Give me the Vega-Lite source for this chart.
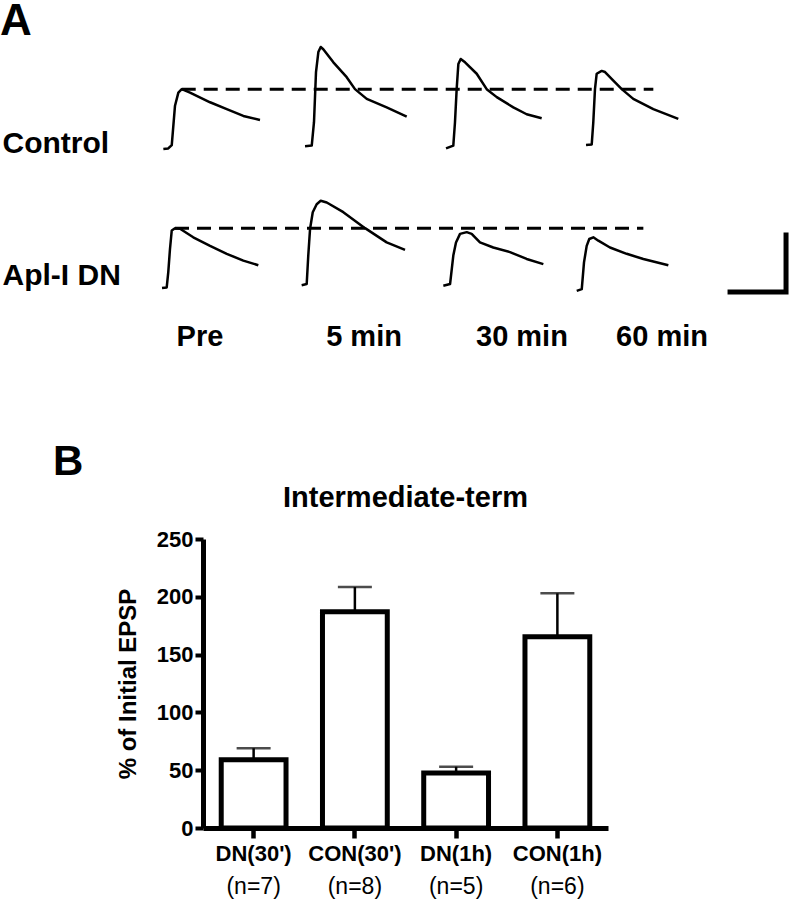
{
  "$schema": "https://vega.github.io/schema/vega-lite/v6.json",
  "padding": 0,
  "background": "white",
  "spacing": 88,
  "config": {"view": {"stroke": null}, "font": "Liberation Sans"},
  "resolve": {"scale": {"xOffset": "independent", "yOffset": "independent"}},
  "datasets": {
    "traces": [
      {"condition": "Control", "timepoint": "Pre", "t": 11.2, "v": 0},
      {"condition": "Control", "timepoint": "Pre", "t": 15.6, "v": 0.1},
      {"condition": "Control", "timepoint": "Pre", "t": 18.7, "v": 0.7},
      {"condition": "Control", "timepoint": "Pre", "t": 21.6, "v": 7.6},
      {"condition": "Control", "timepoint": "Pre", "t": 24.6, "v": 9.9},
      {"condition": "Control", "timepoint": "Pre", "t": 27.6, "v": 10.5},
      {"condition": "Control", "timepoint": "Pre", "t": 35, "v": 9.9},
      {"condition": "Control", "timepoint": "Pre", "t": 52.9, "v": 8.2},
      {"condition": "Control", "timepoint": "Pre", "t": 67.8, "v": 7.0},
      {"condition": "Control", "timepoint": "Pre", "t": 82.6, "v": 5.8},
      {"condition": "Control", "timepoint": "Pre", "t": 97.5, "v": 5.1},
      {"condition": "Control", "timepoint": "5 min", "t": 11.8, "v": 0.5},
      {"condition": "Control", "timepoint": "5 min", "t": 17.8, "v": 0.6},
      {"condition": "Control", "timepoint": "5 min", "t": 19.8, "v": 4.7},
      {"condition": "Control", "timepoint": "5 min", "t": 21.6, "v": 13.5},
      {"condition": "Control", "timepoint": "5 min", "t": 23.7, "v": 17.0},
      {"condition": "Control", "timepoint": "5 min", "t": 25.8, "v": 17.9},
      {"condition": "Control", "timepoint": "5 min", "t": 28.1, "v": 17.5},
      {"condition": "Control", "timepoint": "5 min", "t": 37.1, "v": 15.2},
      {"condition": "Control", "timepoint": "5 min", "t": 49.0, "v": 12.6},
      {"condition": "Control", "timepoint": "5 min", "t": 56.4, "v": 10.5},
      {"condition": "Control", "timepoint": "5 min", "t": 66.9, "v": 8.8},
      {"condition": "Control", "timepoint": "5 min", "t": 84.7, "v": 7.3},
      {"condition": "Control", "timepoint": "5 min", "t": 102.6, "v": 5.7},
      {"condition": "Control", "timepoint": "30 min", "t": 11.8, "v": 0.1},
      {"condition": "Control", "timepoint": "30 min", "t": 18.3, "v": 0.6},
      {"condition": "Control", "timepoint": "30 min", "t": 19.8, "v": 4.7},
      {"condition": "Control", "timepoint": "30 min", "t": 21.3, "v": 10.5},
      {"condition": "Control", "timepoint": "30 min", "t": 22.8, "v": 14.9},
      {"condition": "Control", "timepoint": "30 min", "t": 24.9, "v": 15.8},
      {"condition": "Control", "timepoint": "30 min", "t": 28.8, "v": 15.2},
      {"condition": "Control", "timepoint": "30 min", "t": 39.2, "v": 13.2},
      {"condition": "Control", "timepoint": "30 min", "t": 48.1, "v": 10.5},
      {"condition": "Control", "timepoint": "30 min", "t": 57.1, "v": 9.1},
      {"condition": "Control", "timepoint": "30 min", "t": 71.9, "v": 7.3},
      {"condition": "Control", "timepoint": "30 min", "t": 83.8, "v": 6.1},
      {"condition": "Control", "timepoint": "30 min", "t": 97.2, "v": 5.4},
      {"condition": "Control", "timepoint": "60 min", "t": 10.9, "v": 0.7},
      {"condition": "Control", "timepoint": "60 min", "t": 16.0, "v": 0.8},
      {"condition": "Control", "timepoint": "60 min", "t": 17.4, "v": 4.7},
      {"condition": "Control", "timepoint": "60 min", "t": 18.9, "v": 10.5},
      {"condition": "Control", "timepoint": "60 min", "t": 20.4, "v": 13.2},
      {"condition": "Control", "timepoint": "60 min", "t": 24.9, "v": 13.7},
      {"condition": "Control", "timepoint": "60 min", "t": 27.9, "v": 13.5},
      {"condition": "Control", "timepoint": "60 min", "t": 35.3, "v": 12.0},
      {"condition": "Control", "timepoint": "60 min", "t": 42.8, "v": 10.5},
      {"condition": "Control", "timepoint": "60 min", "t": 53.1, "v": 8.8},
      {"condition": "Control", "timepoint": "60 min", "t": 71.0, "v": 7.0},
      {"condition": "Control", "timepoint": "60 min", "t": 93.3, "v": 5.3},
      {"condition": "Apl-I DN", "timepoint": "Pre", "t": 10.0, "v": 0},
      {"condition": "Apl-I DN", "timepoint": "Pre", "t": 14.2, "v": 0.1},
      {"condition": "Apl-I DN", "timepoint": "Pre", "t": 15.6, "v": 2.8},
      {"condition": "Apl-I DN", "timepoint": "Pre", "t": 17.1, "v": 6.8},
      {"condition": "Apl-I DN", "timepoint": "Pre", "t": 18.7, "v": 10.1},
      {"condition": "Apl-I DN", "timepoint": "Pre", "t": 21.6, "v": 10.5},
      {"condition": "Apl-I DN", "timepoint": "Pre", "t": 26.1, "v": 10.4},
      {"condition": "Apl-I DN", "timepoint": "Pre", "t": 37.9, "v": 8.9},
      {"condition": "Apl-I DN", "timepoint": "Pre", "t": 52.9, "v": 7.4},
      {"condition": "Apl-I DN", "timepoint": "Pre", "t": 67.8, "v": 6.0},
      {"condition": "Apl-I DN", "timepoint": "Pre", "t": 82.6, "v": 4.8},
      {"condition": "Apl-I DN", "timepoint": "Pre", "t": 96.0, "v": 4.0},
      {"condition": "Apl-I DN", "timepoint": "5 min", "t": 8.8, "v": 0.5},
      {"condition": "Apl-I DN", "timepoint": "5 min", "t": 13.3, "v": 0.7},
      {"condition": "Apl-I DN", "timepoint": "5 min", "t": 14.7, "v": 5.7},
      {"condition": "Apl-I DN", "timepoint": "5 min", "t": 16.3, "v": 10.4},
      {"condition": "Apl-I DN", "timepoint": "5 min", "t": 18.7, "v": 13.3},
      {"condition": "Apl-I DN", "timepoint": "5 min", "t": 22.2, "v": 14.7},
      {"condition": "Apl-I DN", "timepoint": "5 min", "t": 25.8, "v": 15.3},
      {"condition": "Apl-I DN", "timepoint": "5 min", "t": 31.2, "v": 15.0},
      {"condition": "Apl-I DN", "timepoint": "5 min", "t": 46.0, "v": 13.3},
      {"condition": "Apl-I DN", "timepoint": "5 min", "t": 65.4, "v": 10.5},
      {"condition": "Apl-I DN", "timepoint": "5 min", "t": 84.7, "v": 8.0},
      {"condition": "Apl-I DN", "timepoint": "5 min", "t": 101.1, "v": 6.7},
      {"condition": "Apl-I DN", "timepoint": "30 min", "t": 9.4, "v": 0.4},
      {"condition": "Apl-I DN", "timepoint": "30 min", "t": 15.4, "v": 0.7},
      {"condition": "Apl-I DN", "timepoint": "30 min", "t": 18.3, "v": 5.7},
      {"condition": "Apl-I DN", "timepoint": "30 min", "t": 20.7, "v": 8.0},
      {"condition": "Apl-I DN", "timepoint": "30 min", "t": 24.3, "v": 9.5},
      {"condition": "Apl-I DN", "timepoint": "30 min", "t": 30.3, "v": 9.8},
      {"condition": "Apl-I DN", "timepoint": "30 min", "t": 34.7, "v": 9.5},
      {"condition": "Apl-I DN", "timepoint": "30 min", "t": 42.1, "v": 8.0},
      {"condition": "Apl-I DN", "timepoint": "30 min", "t": 54.0, "v": 7.1},
      {"condition": "Apl-I DN", "timepoint": "30 min", "t": 68.9, "v": 6.3},
      {"condition": "Apl-I DN", "timepoint": "30 min", "t": 83.8, "v": 5.1},
      {"condition": "Apl-I DN", "timepoint": "30 min", "t": 98.7, "v": 4.2},
      {"condition": "Apl-I DN", "timepoint": "60 min", "t": 2.6, "v": -0.5},
      {"condition": "Apl-I DN", "timepoint": "60 min", "t": 7.1, "v": -0.2},
      {"condition": "Apl-I DN", "timepoint": "60 min", "t": 9.1, "v": 4.5},
      {"condition": "Apl-I DN", "timepoint": "60 min", "t": 11.5, "v": 7.4},
      {"condition": "Apl-I DN", "timepoint": "60 min", "t": 13.8, "v": 8.6},
      {"condition": "Apl-I DN", "timepoint": "60 min", "t": 17.4, "v": 8.9},
      {"condition": "Apl-I DN", "timepoint": "60 min", "t": 21.9, "v": 8.3},
      {"condition": "Apl-I DN", "timepoint": "60 min", "t": 32.3, "v": 7.1},
      {"condition": "Apl-I DN", "timepoint": "60 min", "t": 47.2, "v": 6.0},
      {"condition": "Apl-I DN", "timepoint": "60 min", "t": 62.1, "v": 5.1},
      {"condition": "Apl-I DN", "timepoint": "60 min", "t": 84.4, "v": 4.0}
    ],
    "baselines": [
      {"condition": "Control", "timepoint": "Pre", "t": 27.6, "v": 10.5},
      {"condition": "Control", "timepoint": "60 min", "t": 71.0, "v": 10.5},
      {"condition": "Apl-I DN", "timepoint": "Pre", "t": 21.6, "v": 10.5},
      {"condition": "Apl-I DN", "timepoint": "60 min", "t": 62.1, "v": 10.5}
    ],
    "scalebar": [
      {"condition": "Apl-I DN", "timepoint": "60 min", "t": 139.5, "v": -0.7},
      {"condition": "Apl-I DN", "timepoint": "60 min", "t": 189.5, "v": -0.7},
      {"condition": "Apl-I DN", "timepoint": "60 min", "t": 189.5, "v": 9.3}
    ],
    "timelabels": [
      {"condition": "Apl-I DN", "timepoint": "Pre", "label": "Pre", "t": 43.9, "v": -10.2},
      {"condition": "Apl-I DN", "timepoint": "5 min", "label": "5 min", "t": 64.5, "v": -10.2},
      {"condition": "Apl-I DN", "timepoint": "30 min", "label": "30 min", "t": 79.6, "v": -10.2},
      {"condition": "Apl-I DN", "timepoint": "60 min", "label": "60 min", "t": 78.8, "v": -10.2}
    ],
    "bars": [
      {"group": "DN(30')", "n": "(n=7)", "mean": 59, "upper": 69},
      {"group": "CON(30')", "n": "(n=8)", "mean": 187, "upper": 208.5},
      {"group": "DN(1h)", "n": "(n=5)", "mean": 47.5, "upper": 53},
      {"group": "CON(1h)", "n": "(n=6)", "mean": 165.5, "upper": 203}
    ]
  },
  "vconcat": [
    {
      "width": 564,
      "height": 278,
      "title": {"text": "A", "anchor": "start", "frame": "group", "dx": -203, "fontSize": 44, "fontWeight": "bold", "offset": 0, "color": "black"},
      "layer": [
        {
          "data": {"name": "traces"},
          "mark": {"type": "line", "color": "black", "strokeWidth": 2.5, "strokeJoin": "round"},
          "encoding": {
            "x": {"field": "timepoint", "type": "nominal", "scale": {"type": "band", "domain": ["Pre", "5 min", "30 min", "60 min"], "paddingInner": 0, "paddingOuter": 0}, "axis": null},
            "xOffset": {"field": "t", "type": "quantitative", "scale": {"domain": [46.6, 172.5], "nice": false, "zero": false}},
            "y": {"field": "condition", "type": "nominal", "scale": {"type": "band", "domain": ["Control", "Apl-I DN"], "paddingInner": 0, "paddingOuter": 0},
                  "axis": {"title": null, "domain": false, "ticks": false, "tickSize": 0, "labelFontSize": 30, "labelFontWeight": "bold", "labelAlign": "left", "labelPadding": 201, "labelOffset": {"condition": {"test": "datum.value === 'Control'", "value": 30}, "value": 23}, "labelColor": "black", "labelLimit": 0}},
            "yOffset": {"field": "v", "type": "quantitative", "scale": {"domain": [18.42, -5.96], "nice": false, "zero": false}},
            "detail": [{"field": "condition"}, {"field": "timepoint"}],
            "order": {"value": null}
          }
        },
        {
          "data": {"name": "baselines"},
          "mark": {"type": "line", "color": "black", "strokeWidth": 3, "strokeDash": [14, 8]},
          "encoding": {
            "x": {"field": "timepoint", "type": "nominal", "scale": {"type": "band"}, "axis": null},
            "xOffset": {"field": "t", "type": "quantitative"},
            "y": {"field": "condition", "type": "nominal", "scale": {"type": "band"},
                  "axis": {"title": null, "domain": false, "ticks": false, "tickSize": 0, "labelFontSize": 30, "labelFontWeight": "bold", "labelAlign": "left", "labelPadding": 201, "labelOffset": {"condition": {"test": "datum.value === 'Control'", "value": 30}, "value": 23}, "labelColor": "black", "labelLimit": 0}},
            "yOffset": {"field": "v", "type": "quantitative"},
            "detail": {"field": "condition"},
            "order": {"value": null}
          }
        },
        {
          "data": {"name": "scalebar"},
          "mark": {"type": "line", "color": "black", "strokeWidth": 5, "strokeCap": "square"},
          "encoding": {
            "x": {"field": "timepoint", "type": "nominal", "scale": {"type": "band"}, "axis": null},
            "xOffset": {"field": "t", "type": "quantitative"},
            "y": {"field": "condition", "type": "nominal", "scale": {"type": "band"},
                  "axis": {"title": null, "domain": false, "ticks": false, "tickSize": 0, "labelFontSize": 30, "labelFontWeight": "bold", "labelAlign": "left", "labelPadding": 201, "labelOffset": {"condition": {"test": "datum.value === 'Control'", "value": 30}, "value": 23}, "labelColor": "black", "labelLimit": 0}},
            "yOffset": {"field": "v", "type": "quantitative"},
            "order": {"value": null}
          }
        },
        {
          "data": {"name": "timelabels"},
          "mark": {"type": "text", "fontSize": 29, "fontWeight": "bold", "baseline": "alphabetic", "align": "center", "color": "black"},
          "encoding": {
            "x": {"field": "timepoint", "type": "nominal", "scale": {"type": "band"}, "axis": null},
            "xOffset": {"field": "t", "type": "quantitative"},
            "y": {"field": "condition", "type": "nominal", "scale": {"type": "band"},
                  "axis": {"title": null, "domain": false, "ticks": false, "tickSize": 0, "labelFontSize": 30, "labelFontWeight": "bold", "labelAlign": "left", "labelPadding": 201, "labelOffset": {"condition": {"test": "datum.value === 'Control'", "value": 30}, "value": 23}, "labelColor": "black", "labelLimit": 0}},
            "yOffset": {"field": "v", "type": "quantitative"},
            "text": {"field": "label"}
          }
        }
      ]
    },
    {
      "title": {"text": "B", "anchor": "start", "frame": "group", "dx": -150, "fontSize": 42, "fontWeight": "bold", "offset": 0, "color": "black"},
      "vconcat": [
        {
          "width": 405,
          "height": 289,
          "data": {"name": "bars"},
          "title": {"text": "Intermediate-term", "anchor": "middle", "frame": "group", "fontSize": 29, "fontWeight": "bold", "offset": 15, "color": "black"},
          "layer": [
            {
              "mark": {"type": "bar", "fill": "white", "stroke": "black", "strokeWidth": 5, "size": 64.8},
              "encoding": {
                "x": {"field": "group", "type": "nominal", "scale": {"type": "band", "domain": ["DN(30')", "CON(30')", "DN(1h)", "CON(1h)"], "paddingInner": 0.36, "paddingOuter": 0.18},
                      "axis": {"title": null, "labelAngle": 0, "labelFontSize": 22, "labelFontWeight": "bold", "labelColor": "black", "labelPadding": 5, "tickSize": 10, "tickWidth": 4.5, "tickColor": "black", "domainWidth": 5, "domainColor": "black"}},
                "y": {"field": "mean", "type": "quantitative", "title": "% of Initial EPSP", "scale": {"domain": [0, 250], "nice": false},
                      "axis": {"values": [0, 50, 100, 150, 200, 250], "grid": false, "domainWidth": 5, "domainColor": "black", "tickWidth": 4, "tickSize": 8, "tickColor": "black", "labelFontSize": 22, "labelFontWeight": "bold", "labelColor": "black", "labelPadding": 2, "titleFontSize": 24, "titleFontWeight": "bold", "titleColor": "black", "titlePadding": 16}}
              }
            },
            {
              "mark": {"type": "rule", "color": "black", "strokeWidth": 2.5},
              "encoding": {
                "x": {"field": "group", "type": "nominal", "title": null},
                "y": {"field": "mean", "type": "quantitative", "title": "% of Initial EPSP"},
                "y2": {"field": "upper"}
              }
            },
            {
              "mark": {"type": "tick", "color": "black", "thickness": 2.5, "size": 34},
              "encoding": {
                "x": {"field": "group", "type": "nominal", "title": null},
                "y": {"field": "upper", "type": "quantitative", "title": "% of Initial EPSP"}
              }
            },
            {
              "mark": {"type": "text", "dy": 66, "baseline": "alphabetic", "align": "center", "fontSize": 23, "color": "black"},
              "encoding": {
                "x": {"field": "group", "type": "nominal", "title": null},
                "y": {"datum": 0, "type": "quantitative"},
                "text": {"field": "n"}
              }
            }
          ]
        }
      ]
    }
  ]
}
